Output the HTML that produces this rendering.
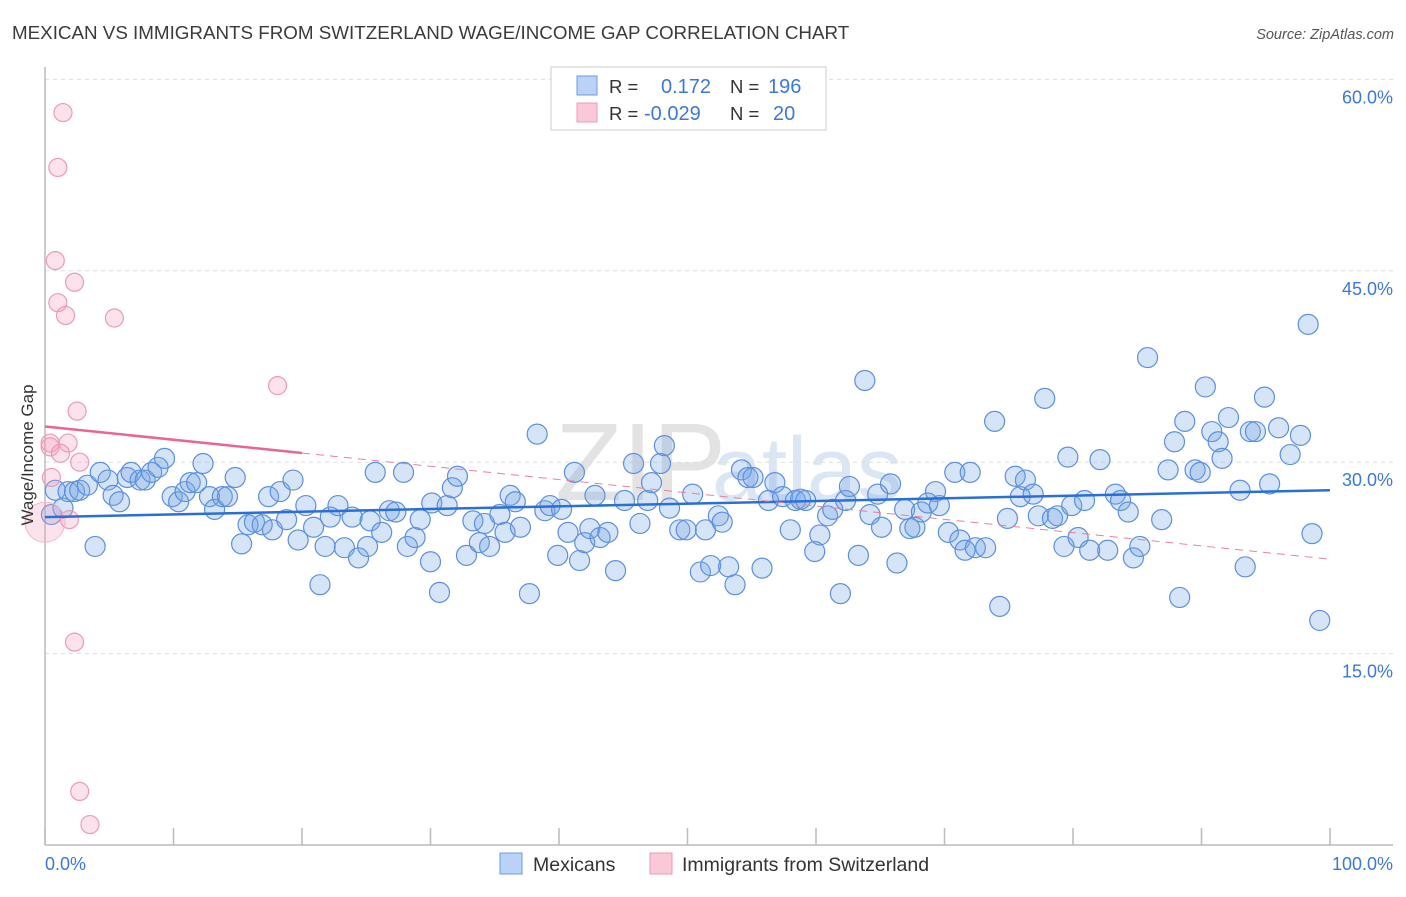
<!DOCTYPE html>
<html><head><meta charset="utf-8"><style>
body{margin:0;background:#fff;font-family:"Liberation Sans",sans-serif;}
svg text{font-family:"Liberation Sans",sans-serif;}
</style></head><body>
<svg id="chart" width="1406" height="892" xmlns="http://www.w3.org/2000/svg">
<text x="12" y="39" font-size="18.8" fill="#3a3a3a">MEXICAN VS IMMIGRANTS FROM SWITZERLAND WAGE/INCOME GAP CORRELATION CHART</text>
<text x="1394" y="39" font-size="14.5" fill="#555" text-anchor="end" font-style="italic">Source: ZipAtlas.com</text>
<g>
<text x="555" y="500" font-size="110" font-family="Liberation Serif,serif" fill="#e3e3e3">ZIP</text>
<text x="712" y="500" font-size="90" fill="#dbe6f5">atlas</text>
</g>
<g id="grid"></g>
<line x1="45" y1="67" x2="45" y2="845" stroke="#bbb" stroke-width="1.5"/>
<line x1="45" y1="845" x2="1393" y2="845" stroke="#bbb" stroke-width="1.5"/>
<g id="ticks"></g>
<g id="pts"></g>
<g id="trend"></g>
<text transform="translate(33,455) rotate(-90)" font-size="17" fill="#333" text-anchor="middle">Wage/Income Gap</text>
<text x="45" y="870" font-size="18" fill="#3b78d8">0.0%</text>
<text x="1393" y="870" font-size="18" fill="#3b78d8" text-anchor="end">100.0%</text>
<g>
<rect x="551" y="67" width="275" height="63" fill="#fff" stroke="#ccc"/>
<rect x="577" y="76" width="20" height="19" fill="#b9d2f5" stroke="#6a9be0"/>
<rect x="577" y="103" width="20" height="19" fill="#f9c9d8" stroke="#ec9ab4"/>
<text x="609" y="93" font-size="18.5" fill="#333">R =</text>
<text x="661" y="93" font-size="20" fill="#3b78d8">0.172</text>
<text x="730" y="93" font-size="18.5" fill="#333">N =</text>
<text x="768" y="93" font-size="20" fill="#3b78d8">196</text>
<text x="609" y="120" font-size="18.5" fill="#333">R =</text>
<text x="644" y="120" font-size="20" fill="#3b78d8">-0.029</text>
<text x="730" y="120" font-size="18.5" fill="#333">N =</text>
<text x="773" y="120" font-size="20" fill="#3b78d8">20</text>
</g>
<g>
<rect x="500" y="853" width="22" height="21" fill="#b9d2f5" stroke="#6a9be0"/>
<text x="533" y="871" font-size="19.5" fill="#333">Mexicans</text>
</g>
<g>
<rect x="650" y="853" width="22" height="21" fill="#f9c9d8" stroke="#ec9ab4"/>
<text x="682" y="871" font-size="19.5" fill="#333">Immigrants from Switzerland</text>
</g>
</svg>
<script>
const yTicks=[15,30,45,60];
const yTickLabels=["15.0%","30.0%","45.0%","60.0%"];
const xTicks=[0,10,20,30,40,50,60,70,80,90,100];
const blueTrend=[25.7,27.8];
const pinkTrend=[32.8,22.4];
const pinkSolidEnd=20;
const mexicans=[[0.5,25.9],[0.8,27.8],[1.4,26.4],[1.8,27.7],[2.3,27.7],[2.7,27.8],[3.3,28.2],[3.9,23.4],[4.3,29.2],[4.9,28.6],[5.3,27.4],[5.8,26.9],[6.4,28.8],[6.7,29.2],[7.4,28.6],[7.8,28.6],[8.3,29.2],[8.8,29.6],[9.3,30.3],[9.9,27.3],[10.4,26.9],[10.9,27.7],[11.3,28.4],[11.8,28.4],[12.3,29.9],[12.8,27.3],[13.2,26.3],[13.8,27.3],[14.2,27.3],[14.8,28.8],[15.3,23.6],[15.8,25.1],[16.3,25.3],[16.9,25.1],[17.4,27.3],[17.7,24.7],[18.3,27.7],[18.8,25.5],[19.3,28.6],[19.7,23.9],[20.3,26.6],[20.9,24.9],[21.4,20.4],[21.8,23.4],[22.2,25.7],[22.8,26.6],[23.3,23.3],[23.9,25.7],[24.4,22.5],[25.1,23.4],[25.3,25.4],[25.7,29.2],[26.2,24.5],[26.8,26.2],[27.3,26.1],[27.9,29.2],[28.2,23.4],[28.8,24.1],[29.2,25.5],[30.0,22.2],[30.1,26.8],[30.7,19.8],[31.3,26.6],[31.7,28.0],[32.1,28.9],[32.8,22.7],[33.3,25.4],[33.8,23.7],[34.2,25.2],[34.6,23.4],[35.4,25.9],[35.8,24.5],[36.2,27.4],[36.6,26.9],[37.0,24.9],[37.7,19.7],[38.3,32.2],[38.9,26.2],[39.3,26.6],[39.9,22.7],[40.2,26.3],[40.7,24.5],[41.2,29.2],[41.6,22.3],[42.0,23.7],[42.4,24.8],[42.8,27.4],[43.2,24.1],[43.8,24.5],[44.4,21.5],[45.1,27.0],[45.8,29.9],[46.3,25.2],[46.9,27.0],[47.2,28.4],[47.9,29.9],[48.2,31.3],[48.6,26.4],[49.4,24.7],[49.9,24.7],[50.4,27.5],[51.0,21.4],[51.4,24.7],[51.8,21.9],[52.4,25.8],[52.7,25.3],[53.2,21.8],[53.7,20.4],[54.2,29.4],[54.7,28.8],[55.1,28.8],[55.8,21.7],[56.3,27.0],[56.8,28.4],[57.4,27.3],[58.0,24.7],[58.4,27.0],[58.8,27.1],[59.2,27.0],[59.9,23.0],[60.3,24.3],[60.9,25.8],[61.3,26.3],[61.9,19.7],[62.3,27.0],[62.6,28.1],[63.3,22.7],[63.8,36.4],[64.2,25.9],[64.8,27.5],[65.1,24.9],[65.8,28.3],[66.3,22.1],[66.9,26.3],[67.3,24.8],[67.7,24.9],[68.2,26.1],[68.7,26.8],[69.3,27.7],[69.6,26.6],[70.3,24.5],[70.8,29.2],[71.2,23.9],[71.6,23.1],[72.0,29.2],[72.4,23.3],[73.2,23.3],[73.9,33.2],[74.3,18.7],[74.9,25.6],[75.5,28.9],[75.9,27.3],[76.3,28.6],[76.9,27.5],[77.3,25.8],[77.8,35.0],[78.4,25.6],[78.8,25.8],[79.3,23.4],[79.6,30.4],[79.9,26.6],[80.4,24.1],[80.9,27.0],[81.3,23.1],[82.1,30.2],[82.7,23.1],[83.3,27.5],[83.7,27.0],[84.3,26.1],[84.7,22.5],[85.2,23.4],[85.8,38.2],[86.9,25.5],[87.4,29.4],[87.9,31.6],[88.3,19.4],[88.7,33.2],[89.5,29.4],[89.9,29.2],[90.3,35.9],[90.8,32.4],[91.3,31.6],[91.6,30.3],[92.1,33.5],[93.0,27.8],[93.4,21.8],[93.8,32.4],[94.2,32.4],[94.9,35.1],[95.3,28.3],[96.0,32.7],[96.9,30.6],[97.7,32.1],[98.3,40.8],[98.6,24.4],[99.2,17.6]];
const swiss=[[1.4,57.4],[1.0,53.1],[0.8,45.8],[2.3,44.1],[1.0,42.5],[1.6,41.5],[5.4,41.3],[18.1,36.0],[2.5,34.0],[0.4,31.5],[0.4,31.2],[1.8,31.5],[1.2,30.7],[2.7,30.0],[0.5,28.8],[1.9,25.5],[2.3,15.9],[2.7,4.2],[3.5,1.6]];
const bigSwiss=[[0,25.3]];
const NS="http://www.w3.org/2000/svg";
const X=v=>45+v*12.85, Y=v=>845-v*12.76;
function mk(t,a,p){const e=document.createElementNS(NS,t);for(const k in a)e.setAttribute(k,a[k]);p.appendChild(e);return e;}
const grid=document.getElementById('grid');
yTicks.forEach((t,i)=>{
 const l=mk('line',{x1:45,x2:1393,y1:Y(t),y2:Y(t),stroke:'#ddd','stroke-dasharray':'4 4'},grid);
 
 
 const tx=mk('text',{x:1393,y:Y(t)+24,'font-size':18,fill:'#3b78d8','text-anchor':'end'},grid);
 tx.textContent=yTickLabels[i];
 
 
});
const tk=document.getElementById('ticks');
xTicks.forEach(t=>{
 const l=mk('line',{x1:X(t),x2:X(t),y1:828,y2:845,stroke:'#bbb','stroke-width':1.5},tk);
 
 
});
const pts=document.getElementById('pts');
mexicans.forEach(d=>{
 const c=mk('circle',{cx:X(d[0]),cy:Y(d[1]),r:10,fill:'rgba(120,165,230,0.3)',stroke:'#5b8fe0','stroke-width':1.2},pts);
 
 
});
swiss.forEach(d=>{
 const c=mk('circle',{cx:X(d[0]),cy:Y(d[1]),r:9,fill:'rgba(245,160,190,0.3)',stroke:'#ec9ab4','stroke-width':1.2},pts);
 
 
});
bigSwiss.forEach(d=>{
 const c=mk('circle',{cx:X(d[0]),cy:Y(d[1]),r:20,fill:'rgba(245,160,190,0.3)',stroke:'#f3b6c8','stroke-width':1},pts);
 
 
});
const tr=document.getElementById('trend');
const py=x=>pinkTrend[0]+(pinkTrend[1]-pinkTrend[0])*x/100;
let l=mk('line',{x1:X(0),y1:Y(blueTrend[0]),x2:X(100),y2:Y(blueTrend[1]),stroke:'#2a6fd6','stroke-width':2.5},tr);


l=mk('line',{x1:X(0),y1:Y(py(0)),x2:X(pinkSolidEnd),y2:Y(py(pinkSolidEnd)),stroke:'#e8668f','stroke-width':2.5},tr);


l=mk('line',{x1:X(pinkSolidEnd),y1:Y(py(pinkSolidEnd)),x2:X(100),y2:Y(py(100)),stroke:'#e8809f','stroke-width':1,'stroke-dasharray':'8 6'},tr);


</script>
</body></html>
